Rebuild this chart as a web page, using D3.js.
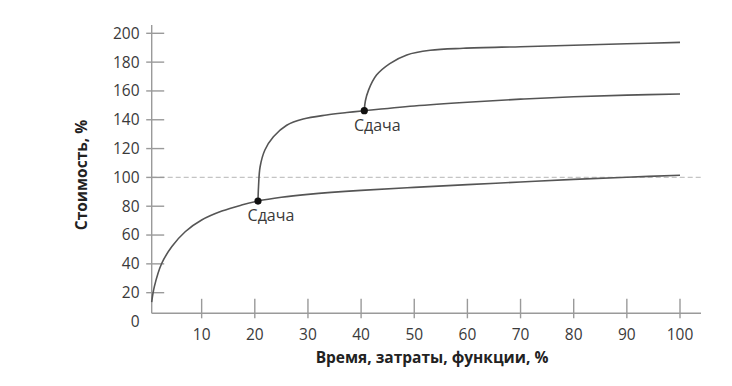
<!DOCTYPE html>
<html>
<head>
<meta charset="utf-8">
<script src="https://cdn.jsdelivr.net/npm/d3@7"></script>
<style>
  html, body { margin: 0; padding: 0; background: #fff; }
  svg { display: block; }
</style>
</head>
<body>
<svg id="chart" width="732" height="386"></svg>
<script>
// ---- data ----
const xTicks = [10, 20, 30, 40, 50, 60, 70, 80, 90, 100];
const yTicks = [0, 20, 40, 60, 80, 100, 120, 140, 160, 180, 200];
const xTitle = "Время, затраты, функции, %";
const yTitle = "Стоимость, %";
const deliveryLabel = "Сдача";

// base cost curve (x, y)
const baseX = [0.6, 1.1, 2.5, 4.4, 6.9, 10, 13.8, 17.5, 20.6, 25, 30, 40, 50, 60, 70, 80, 90, 100];
const baseY = [13.5, 24.2, 40.4, 52, 62.3, 70.4, 76.6, 80.8, 83.6, 86.2, 88.2, 91, 93.1, 95, 96.8, 98.6, 100.1, 101.5];
// branch after first delivery
const secondX = [20.6, 20.7, 21, 21.9, 23.5, 26, 29.1, 33.5, 37.3, 40.6, 50, 60, 70, 80, 90, 100];
const secondY = [83.6, 93.5, 107.4, 119, 128.2, 136.2, 140.5, 143.3, 145, 146.3, 149.6, 152.2, 154.3, 156, 157.1, 157.9];
// branch after second delivery
const thirdX = [40.6, 40.8, 41.4, 42.9, 45.4, 48.6, 53, 59.2, 70, 80, 90, 100];
const thirdY = [146.3, 153, 160.6, 171, 179, 185, 188.2, 189.6, 190.7, 191.7, 192.7, 193.7];
// delivery points
const deliveryX = [20.6, 40.6];
const deliveryY = [83.6, 146.3];
const referenceLine = 100;

// ---- drawing ----
const svg = d3.select("#chart");
const x = d3.scaleLinear().domain([0, 100]).range([148.5, 680]);
const y = d3.scaleLinear().domain([0, 200]).range([321.5, 33.3]);

const axisColor = "#9a9a9a";
const lineColor = "#555";
const textColor = "#3a3a3a";
const font = "'Open Sans', sans-serif";

const axisX0 = 151.7;   // position of vertical axis line
const axisY0 = 313.3;   // position of horizontal axis line

// reference dashed line
svg.append("line")
  .attr("x1", axisX0).attr("x2", 702)
  .attr("y1", y(referenceLine)).attr("y2", y(referenceLine))
  .attr("stroke", "#c4c4c4").attr("stroke-width", 1.3)
  .attr("stroke-dasharray", "5,3");

// axes lines
svg.append("line")
  .attr("x1", axisX0).attr("x2", axisX0)
  .attr("y1", 25).attr("y2", axisY0)
  .attr("stroke", axisColor).attr("stroke-width", 1.4);
svg.append("line")
  .attr("x1", axisX0).attr("x2", 701)
  .attr("y1", axisY0).attr("y2", axisY0)
  .attr("stroke", axisColor).attr("stroke-width", 1.4);

// y ticks
const yg = svg.append("g");
yTicks.forEach(v => {
  if (v > 0) {
    yg.append("line")
      .attr("x1", axisX0 - 5.5).attr("x2", axisX0 + 12.5)
      .attr("y1", y(v)).attr("y2", y(v))
      .attr("stroke", axisColor).attr("stroke-width", 1.4);
  }
  yg.append("text")
    .attr("x", 139.5).attr("y", y(v))
    .attr("dy", "0.35em")
    .attr("text-anchor", "end")
    .attr("font-family", font).attr("font-size", 15.5)
    .attr("fill", textColor)
    .text(v);
});

// x ticks
const xg = svg.append("g");
xTicks.forEach(v => {
  xg.append("line")
    .attr("x1", x(v)).attr("x2", x(v))
    .attr("y1", axisY0 - 14.5).attr("y2", axisY0 + 5)
    .attr("stroke", axisColor).attr("stroke-width", 1.4);
  xg.append("text")
    .attr("x", x(v)).attr("y", 335)
    .attr("dy", "0.35em")
    .attr("text-anchor", "middle")
    .attr("font-family", font).attr("font-size", 15.5)
    .attr("fill", textColor)
    .text(v);
});

// axis titles
svg.append("text")
  .attr("x", 432).attr("y", 358).attr("dy", "0.35em")
  .attr("text-anchor", "middle")
  .attr("font-family", font).attr("font-size", 15.5).attr("font-weight", "bold")
  .attr("fill", "#222")
  .text(xTitle);
svg.append("text")
  .attr("transform", "translate(82,175) rotate(-90)")
  .attr("dy", "0.35em")
  .attr("text-anchor", "middle")
  .attr("font-family", font).attr("font-size", 15.5).attr("font-weight", "bold")
  .attr("fill", "#222")
  .text(yTitle);

// curves
const line = d3.line()
  .x(d => x(d[0])).y(d => y(d[1]))
  .curve(d3.curveCatmullRom.alpha(0.5));
function draw(xs, ys) {
  svg.append("path")
    .datum(xs.map((v, i) => [v, ys[i]]))
    .attr("d", line)
    .attr("fill", "none")
    .attr("stroke", lineColor)
    .attr("stroke-width", 1.6);
}
draw(baseX, baseY);
draw(secondX, secondY);
draw(thirdX, thirdY);

// delivery points and labels
deliveryX.forEach((v, i) => {
  svg.append("circle")
    .attr("cx", x(v)).attr("cy", y(deliveryY[i]))
    .attr("r", 3.6).attr("fill", "#111");
  svg.append("text")
    .attr("x", x(v) + 13).attr("y", y(deliveryY[i]) + 14.5)
    .attr("dy", "0.35em")
    .attr("text-anchor", "middle")
    .attr("font-family", font).attr("font-size", 16)
    .attr("fill", textColor)
    .text(deliveryLabel);
});
</script>
</body>
</html>
